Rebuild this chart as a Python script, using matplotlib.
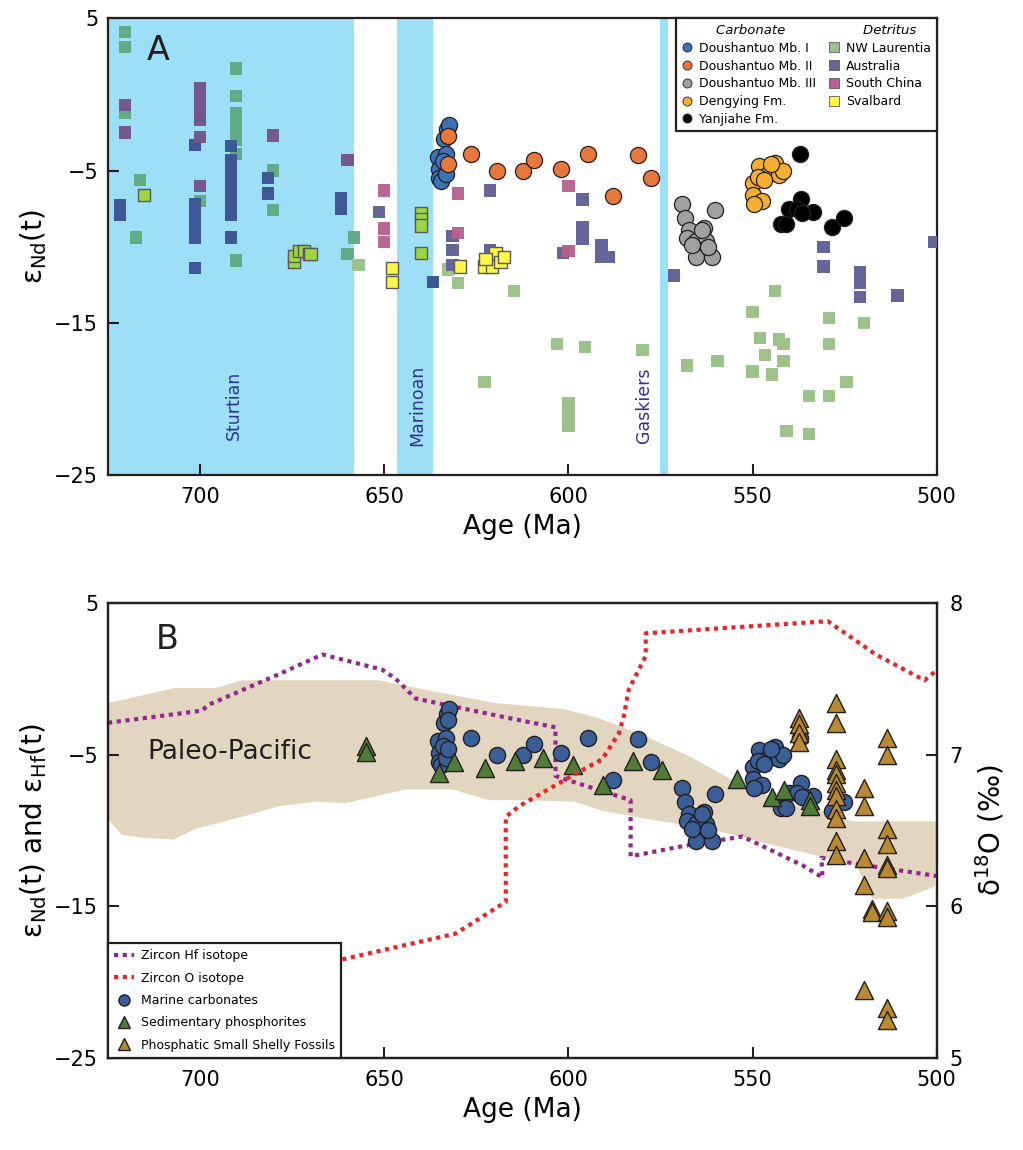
import numpy as np
import matplotlib
matplotlib.use('Agg')
import matplotlib.pyplot as plt
from matplotlib.colors import to_rgb
from matplotlib.lines import Line2D

# ---------------- Panel A data (age Ma, eps Nd) ----------------
mb1_age = [632.9, 633.8, 635.3, 633.3, 635.1, 635.0, 634.6, 633.3, 632.5, 634.0]
mb1_eps = [-2.3, -2.9, -4.1, -3.9, -4.9, -5.5, -5.7, -5.2, -2.0, -4.4]

mb2_age = [632.6, 632.6, 626.5, 619.3, 612.2, 609.2, 602.0, 594.8, 587.8, 581.1, 577.6]
mb2_eps = [-2.7, -4.6, -3.9, -5.0, -5.0, -4.3, -4.9, -3.9, -6.7, -4.0, -5.5]

mb3_age = [569.2, 568.3, 560.2, 567.3, 563.3, 567.7, 565.4, 562.7, 564.9, 565.4, 561.1, 563.8, 566.5, 562.0]
mb3_eps = [-7.2, -8.1, -7.6, -8.9, -8.8, -9.4, -9.6, -9.6, -10.2, -10.7, -10.7, -8.9, -9.9, -10.0]

deng_age = [548.2, 543.9, 545.9, 542.8, 550.0, 548.6, 546.8, 550.0, 547.3, 549.7, 541.8, 545.0]
deng_eps = [-4.7, -4.5, -5.2, -5.3, -5.8, -5.4, -5.6, -6.6, -7.0, -7.2, -5.0, -4.6]

yanj_age = [537.1, 536.9, 540.0, 537.8, 533.5, 536.6, 542.3, 540.9, 528.5, 525.1]
yanj_eps = [-3.9, -6.9, -7.5, -7.5, -7.7, -7.8, -8.5, -8.5, -8.7, -8.1]

laur_age = [720.4, 720.4, 720.4, 690.2, 690.2, 690.2, 690.2, 690.2, 690.2, 690.2, 700, 716.4,
            700, 680.2, 680.2, 717.4, 690.2, 658.2, 660, 657, 632.6, 629.9, 614.7, 622.8,
            603, 595.4, 579.9, 600, 600, 600, 567.7, 559.5, 550, 550, 547.9, 546.7, 544.8,
            543.8, 542.8, 541.6, 541.6, 540.8, 534.6, 534.6, 529.3, 529.3, 529.3, 524.5, 519.8]
laur_eps = [4.1, 3.1, -1.2, 1.7, -0.1, -1.2, -1.8, -2.4, -3.0, -3.9, -1.5, -5.6,
            -7.0, -5.0, -7.6, -9.4, -10.9, -9.4, -10.5, -11.2, -11.5, -12.4, -12.9, -18.9,
            -16.4, -16.6, -16.8, -20.3, -21.1, -21.8, -17.8, -17.5, -14.3, -18.2, -16.0, -17.1, -18.4,
            -12.9, -16.1, -16.4, -17.5, -22.1, -19.8, -22.3, -14.7, -16.4, -19.8, -18.9, -15.0]

aus_age = [721.7, 721.7, 701.4, 701.4, 701.4, 701.4, 701.4, 701.4, 691.6, 691.6, 691.6, 691.6,
           691.6, 691.6, 691.6, 691.6, 681.5, 681.5, 661.7, 661.7, 651.4, 621.2, 631.5, 631.5,
           631.5, 621.2, 636.8, 596.2, 596.2, 596.2, 601.4, 591, 591, 589.1, 571.3, 561.2,
           530.7, 530.7, 520.9, 520.9, 520.9, 510.6, 500.6]
aus_eps = [-7.3, -7.9, -3.3, -7.2, -7.9, -8.7, -9.4, -11.4, -3.4, -4.3, -5.1, -5.8,
           -6.5, -7.2, -7.9, -9.4, -5.5, -6.5, -6.8, -7.5, -7.7, -6.3, -9.3, -10.2,
           -11.2, -10.2, -12.3, -6.9, -8.7, -9.5, -10.4, -9.9, -10.7, -10.7, -11.9, -10.3,
           -10.0, -11.3, -11.7, -12.4, -13.3, -13.2, -9.7]

sc_age = [720.4, 720.4, 700, 700, 700, 700, 700, 700, 680.2, 660, 650, 650, 650, 629.9, 629.9, 600, 600]
sc_eps = [-0.7, -2.5, 0.4, -0.3, -1.0, -1.7, -2.8, -6.0, -2.7, -4.3, -6.3, -8.8, -9.7, -6.5, -9.1, -6.0, -10.3]

sval_age = [715.3, 674.5, 674.5, 673, 671.8, 670.3, 670, 647.9, 647.9, 640, 640, 640, 640,
            629.5, 623, 620.7, 619.8, 618.4, 617.5, 622.5]
sval_eps = [-6.6, -11.0, -10.6, -10.3, -10.3, -10.5, -10.5, -11.4, -12.3, -7.8, -8.2, -8.6, -10.4,
            -11.3, -11.3, -11.3, -10.4, -11.0, -10.7, -10.8]

glaciations = ['Sturtian', 'Marinoan', 'Gaskiers']
glac_start = [725, 646.5, 575]
glac_end = [658.2, 636.7, 573]
glac_label_age = [690.8, 641.0, 579.4]

# ---------------- Panel B data ----------------
phos_age = [654.9, 654.9, 635, 631.1, 622.7, 614.5, 606.9, 598.7, 590.6, 582.4, 574.7,
            554.3, 544.8, 541.4, 534.4, 534.4]
phos_eps = [-4.45, -4.8, -6.2, -5.5, -5.9, -5.4, -5.2, -5.7, -7.0, -5.4, -6.0,
            -6.6, -7.8, -7.3, -8.0, -8.4]

sf_age = [527.4, 527.4, 537.5, 537.5, 537.5, 537.5, 513.5, 513.5, 527.4, 527.4, 527.4, 527.4,
          527.4, 527.4, 519.7, 519.7, 527.4, 527.4, 513.5, 513.5, 527.4, 527.4, 519.7, 513.5,
          513.5, 519.7, 517.5, 517.5, 513.5, 513.5, 519.7, 513.5, 513.5]
sf_eps = [-1.6, -2.9, -2.6, -3.0, -3.6, -4.2, -3.9, -5.0, -5.3, -6.0, -6.3, -6.9,
          -7.3, -7.7, -7.2, -8.4, -8.6, -9.2, -9.9, -10.9, -10.7, -11.6, -11.8, -12.3,
          -12.5, -13.6, -15.2, -15.4, -15.3, -15.7, -20.5, -21.7, -22.5]

pac_up_age = [725, 706.7, 695.4, 689, 651.4, 641.5, 619.8, 601.2, 591.7, 579, 567.2, 554.5,
              541, 529.1, 522.8, 499.3]
pac_up_eps = [-1.6, -0.6, -0.6, -0.1, -0.1, -0.6, -1.6, -2.0, -2.6, -3.8, -5.1, -6.8,
              -8.2, -8.8, -9.4, -9.4]
pac_lo_age = [725, 721.2, 714.9, 707.2, 701.3, 688.6, 678.6, 668.7, 660.5, 644.2, 631.5, 621.6,
              612, 598.5, 590.8, 577.2, 561.8, 543.7, 531.9, 521.9, 517.4, 509.2, 504.7, 500.6, 499.3]
pac_lo_eps = [-9.3, -10.3, -10.5, -10.6, -9.9, -9.1, -8.4, -8.1, -8.2, -7.3, -7.3, -8.0,
              -8.0, -8.1, -8.7, -9.3, -9.9, -11.0, -11.7, -12.3, -14.5, -14.5, -14.1, -13.7, -9.5]

hf_age = [725, 699.5, 697.6, 678.6, 666.8, 650.5, 646.9, 641.5, 618, 603.5, 603.5, 601.2,
          583.1, 583.1, 568.2, 552.7, 536.4, 531, 531.3, 521.9, 500]
hf_eps = [-2.9, -2.1, -1.7, 0.3, 1.6, 0.6, 0.0, -1.3, -2.5, -3.2, -6.4, -6.6,
          -8.0, -11.7, -11.0, -10.4, -12.3, -13.1, -11.8, -12.2, -13.0]

o_age = [725, 661.4, 630.6, 617, 617, 613.4, 599.8, 590.8, 586.3, 585, 583.6, 579, 579,
         529.6, 516.5, 503.3, 499.3]
o_d18 = [5.45, 5.65, 5.82, 6.03, 6.59, 6.66, 6.85, 6.97, 7.14, 7.25, 7.43, 7.65, 7.80,
         7.88, 7.66, 7.49, 7.57]

# ---------------- styling ----------------
BAND = '#9DDFF7'
LABEL_BLUE = '#2E3192'
EDGE = '#231F20'


def shaded(color, ages):
    # squares inside glaciation bands look darker in the original (multiply blend)
    base = np.array(to_rgb(color))
    band = np.array(to_rgb(BAND))
    out = []
    for a in ages:
        inside = any(min(s, e) <= a <= max(s, e) for s, e in zip(glac_start, glac_end))
        out.append(tuple(base * band) if inside else tuple(base))
    return out


fig = plt.figure(figsize=(10.23, 11.5), dpi=100)
axA = fig.add_axes([0.1056, 0.587, 0.810, 0.397])
axB = fig.add_axes([0.1056, 0.080, 0.810, 0.3957])

for ax in (axA, axB):
    ax.set_xlim(725, 500)
    ax.set_ylim(-25, 5)
    ax.set_xticks([700, 650, 600, 550, 500])
    ax.set_yticks([5, -5, -15, -25])
    ax.tick_params(direction='in', length=8, width=1.5, labelsize=15, color=EDGE)
    ax.tick_params(axis='x', pad=9)
    ax.tick_params(axis='y', pad=7)
    for sp in ax.spines.values():
        sp.set_linewidth(1.6)
        sp.set_color(EDGE)
    ax.set_xlabel('Age (Ma)', fontsize=19, labelpad=5)

# ---- Panel A ----
for s, e, name, la in zip(glac_start, glac_end, glaciations, glac_label_age):
    axA.axvspan(e, s, color=BAND, lw=0, zorder=0)
    axA.text(la, -20.4, name, rotation=90, ha='center', va='center',
             color=LABEL_BLUE, fontsize=12.5, zorder=1)

sq = 78
axA.scatter(laur_age, laur_eps, marker='s', s=sq, c=shaded('#9DC38A', laur_age), lw=0, zorder=2)
axA.scatter(aus_age, aus_eps, marker='s', s=sq, c=shaded('#65659A', aus_age), lw=0, zorder=3)
axA.scatter(sc_age, sc_eps, marker='s', s=sq, c=shaded('#B95E8E', sc_age), lw=0, zorder=3, alpha=0.95)
axA.scatter(sval_age, sval_eps, marker='s', s=sq, c=shaded('#FFF545', sval_age),
            edgecolors='#5A5A5A', lw=1.0, zorder=4)

circ = 135
for ages, eps, col in [(mb1_age, mb1_eps, '#3D72B8'), (mb2_age, mb2_eps, '#E8773C'),
                       (mb3_age, mb3_eps, '#A0A0A2'), (deng_age, deng_eps, '#F5AE2F'),
                       (yanj_age, yanj_eps, '#000000')]:
    axA.scatter(ages, eps, marker='o', s=circ, c=col, edgecolors=EDGE, lw=0.9, zorder=5)

axA.set_ylabel('ε$_{\\mathrm{Nd}}$(t)', fontsize=20, labelpad=4)
axA.text(0.047, 0.93, 'A', transform=axA.transAxes, fontsize=24, ha='left', va='center', color=EDGE)

blank = Line2D([], [], linestyle='none')
def mk(marker, col, ec=None):
    return Line2D([], [], linestyle='none', marker=marker, markersize=6.5,
                  markerfacecolor=col, markeredgecolor=ec if ec else col, markeredgewidth=0.6)

hA = [blank, mk('o', '#3D72B8', EDGE), mk('o', '#E8773C', EDGE), mk('o', '#A0A0A2', EDGE),
      mk('o', '#F5AE2F', EDGE), mk('o', '#000000', EDGE),
      blank, mk('s', '#9DC38A', '#5A5A5A'), mk('s', '#65659A', '#5A5A5A'),
      mk('s', '#B95E8E', '#5A5A5A'), mk('s', '#FFF545', '#5A5A5A'), blank]
lA = ['    Carbonate', 'Doushantuo Mb. I', 'Doushantuo Mb. II', 'Doushantuo Mb. III',
      'Dengying Fm.', 'Yanjiahe Fm.', '    Detritus', 'NW Laurentia', 'Australia',
      'South China', 'Svalbard', '']
legA = axA.legend(hA, lA, ncol=2, loc='upper right', fontsize=9, frameon=True, fancybox=False,
                  edgecolor=EDGE, framealpha=1, borderaxespad=0, labelspacing=0.38,
                  handlelength=0.9, handletextpad=0.5, columnspacing=1.0, borderpad=0.45)
legA.get_frame().set_linewidth(1.6)
legA.set_zorder(10)
for i in (0, 6):
    legA.get_texts()[i].set_style('italic')
    legA.get_texts()[i].set_fontsize(9.5)

# ---- Panel B ----
axB.fill(pac_up_age + pac_lo_age[::-1], pac_up_eps + pac_lo_eps[::-1],
         color='#E2D6C0', lw=0, zorder=0)
axB.text(0.048, -4.8, 'Paleo-Pacific', transform=axB.get_yaxis_transform(),
         fontsize=19, ha='left', va='center', color=EDGE, zorder=1)
axB.plot(hf_age, hf_eps, color='#93278F', lw=3, linestyle=(0, (1, 1.1)), zorder=2)

carb_age = mb1_age + mb2_age + mb3_age + deng_age + yanj_age
carb_eps = mb1_eps + mb2_eps + mb3_eps + deng_eps + yanj_eps
axB.scatter(carb_age, carb_eps, marker='o', s=circ, c='#3A5E98', edgecolors=EDGE, lw=1.0, zorder=3)
axB.scatter(phos_age, phos_eps, marker='^', s=170, c='#507C37', edgecolors=EDGE, lw=1.0, zorder=4)
axB.scatter(sf_age, sf_eps, marker='^', s=170, c='#BA8A30', edgecolors=EDGE, lw=1.0, zorder=4)

axB.set_ylabel('ε$_{\\mathrm{Nd}}$(t) and ε$_{\\mathrm{Hf}}$(t)', fontsize=20, labelpad=4)
axB.text(0.057, 0.92, 'B', transform=axB.transAxes, fontsize=24, ha='left', va='center', color=EDGE)

axR = axB.twinx()
axR.set_ylim(5, 8)
axR.set_yticks([5, 6, 7, 8])
axR.tick_params(direction='in', length=8, width=1.5, labelsize=15, color=EDGE, pad=9)
axR.plot(o_age, o_d18, color='#EE2229', lw=3, linestyle=(0, (1, 1.1)), zorder=2)
axR.set_ylabel('δ$^{18}$O (‰)', fontsize=20, labelpad=8)
for sp in axR.spines.values():
    sp.set_linewidth(1.6)
    sp.set_color(EDGE)

hB = [Line2D([], [], color='#93278F', lw=3, linestyle=(0, (1, 1.1))),
      Line2D([], [], color='#EE2229', lw=3, linestyle=(0, (1, 1.1))),
      Line2D([], [], linestyle='none', marker='o', markersize=8, markerfacecolor='#3A5E98', markeredgecolor=EDGE),
      Line2D([], [], linestyle='none', marker='^', markersize=8.5, markerfacecolor='#507C37', markeredgecolor=EDGE),
      Line2D([], [], linestyle='none', marker='^', markersize=8.5, markerfacecolor='#BA8A30', markeredgecolor=EDGE)]
lB = ['Zircon Hf isotope', 'Zircon O isotope', 'Marine carbonates',
      'Sedimentary phosphorites', 'Phosphatic Small Shelly Fossils']
legB = axR.legend(hB, lB, loc='lower left', fontsize=9, frameon=True, fancybox=False,
                  edgecolor=EDGE, framealpha=1, borderaxespad=0, labelspacing=0.75,
                  handlelength=1.6, handletextpad=0.5, borderpad=0.5)
legB.get_frame().set_linewidth(1.6)
legB.set_zorder(10)

fig.savefig('out.png', dpi=100)
